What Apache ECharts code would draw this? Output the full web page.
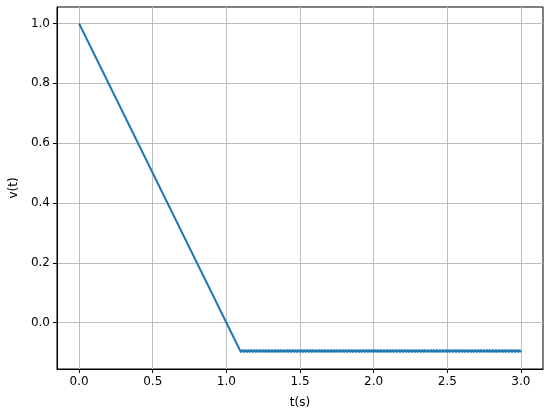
<!DOCTYPE html>
<html>
<head>
<meta charset="utf-8">
<script src="https://cdn.jsdelivr.net/npm/echarts@6/dist/echarts.min.js"></script>
<style>
  html, body { margin: 0; padding: 0; background: #fff; }
  #chart { width: 550px; height: 417px; }
</style>
</head>
<body>
<div id="chart"></div>
<script>
// ramp part: v falls linearly from 1 to about -0.09
var rampT = [0, 1.09];
var rampV = [1.0, -0.09];

// chattering part, one value every 0.01 s from 1.10 s to 3.00 s
var chatterStart = 1.10;
var chatterStep = 0.01;
var chatterV = [
    -0.0988, -0.0912, -0.0988, -0.0912, -0.0988, -0.0912, -0.0988, -0.0912, -0.0988, -0.0912,
    -0.0988, -0.0912, -0.0988, -0.0912, -0.0988, -0.0912, -0.0988, -0.0912, -0.0988, -0.0912,
    -0.0988, -0.0912, -0.0988, -0.0912, -0.0988, -0.0912, -0.0988, -0.0912, -0.0988, -0.0912,
    -0.0988, -0.0912, -0.0988, -0.0912, -0.0988, -0.0912, -0.0988, -0.0912, -0.0988, -0.0912,
    -0.0988, -0.0912, -0.0988, -0.0912, -0.0988, -0.0912, -0.0988, -0.0912, -0.0988, -0.0912,
    -0.0988, -0.0912, -0.0988, -0.0912, -0.0988, -0.0912, -0.0988, -0.0912, -0.0988, -0.0912,
    -0.0988, -0.0912, -0.0988, -0.0912, -0.0988, -0.0912, -0.0988, -0.0912, -0.0988, -0.0912,
    -0.0988, -0.0912, -0.0988, -0.0912, -0.0988, -0.0912, -0.0988, -0.0912, -0.0988, -0.0912,
    -0.0988, -0.0912, -0.0988, -0.0912, -0.0988, -0.0912, -0.0988, -0.0912, -0.0988, -0.0912,
    -0.0988, -0.0912, -0.0988, -0.0912, -0.0988, -0.0912, -0.0988, -0.0912, -0.0988, -0.0912,
    -0.0988, -0.0912, -0.0988, -0.0912, -0.0988, -0.0912, -0.0988, -0.0912, -0.0988, -0.0912,
    -0.0988, -0.0912, -0.0988, -0.0912, -0.0988, -0.0912, -0.0988, -0.0912, -0.0988, -0.0912,
    -0.0988, -0.0912, -0.0988, -0.0912, -0.0988, -0.0912, -0.0988, -0.0912, -0.0988, -0.0912,
    -0.0988, -0.0912, -0.0988, -0.0912, -0.0988, -0.0912, -0.0988, -0.0912, -0.0988, -0.0912,
    -0.0988, -0.0912, -0.0988, -0.0912, -0.0988, -0.0912, -0.0988, -0.0912, -0.0988, -0.0912,
    -0.0988, -0.0912, -0.0988, -0.0912, -0.0988, -0.0912, -0.0988, -0.0912, -0.0988, -0.0912,
    -0.0988, -0.0912, -0.0988, -0.0912, -0.0988, -0.0912, -0.0988, -0.0912, -0.0988, -0.0912,
    -0.0988, -0.0912, -0.0988, -0.0912, -0.0988, -0.0912, -0.0988, -0.0912, -0.0988, -0.0912,
    -0.0988, -0.0912, -0.0988, -0.0912, -0.0988, -0.0912, -0.0988, -0.0912, -0.0988, -0.0912,
    -0.0988
];

var xTicks = [0, 0.5, 1.0, 1.5, 2.0, 2.5, 3.0];
var yTicks = [0, 0.2, 0.4, 0.6, 0.8, 1.0];

var points = [];
for (var i = 0; i < rampT.length; i++) {
    points.push([rampT[i], rampV[i]]);
}
for (var j = 0; j < chatterV.length; j++) {
    points.push([+(chatterStart + j * chatterStep).toFixed(2), chatterV[j]]);
}

var myChart = echarts.init(document.getElementById('chart'));

var font = 'DejaVu Sans';
var gridStyle = { show: true, lineStyle: { color: '#bdbdbd', width: 1 } };

var option = {
    animation: false,
    backgroundColor: '#fff',
    textStyle: { fontFamily: font },
    grid: {
        left: 57,
        right: 7,
        top: 7,
        bottom: 48,
        show: true,
        borderColor: '#000',
        borderWidth: 1,
        containLabel: false
    },
    xAxis: {
        type: 'value',
        min: -0.15,
        max: 3.15,
        name: 't(s)',
        nameLocation: 'middle',
        nameGap: 28,
        nameTextStyle: { fontFamily: font, fontSize: 12, color: '#000' },
        axisLine: { show: true, onZero: false, lineStyle: { color: '#000', width: 1 } },
        axisTick: { show: true, length: 4, lineStyle: { color: '#000' }, customValues: xTicks },
        axisLabel: {
            margin: 7,
            fontFamily: font,
            fontSize: 12,
            color: '#000',
            customValues: xTicks,
            formatter: function (v) { return v.toFixed(1); }
        },
        splitLine: gridStyle
    },
    yAxis: {
        type: 'value',
        min: -0.155,
        max: 1.055,
        name: 'v(t)',
        nameLocation: 'middle',
        nameGap: 35,
        nameTextStyle: { fontFamily: font, fontSize: 12, color: '#000' },
        axisLine: { show: true, onZero: false, lineStyle: { color: '#000', width: 1 } },
        axisTick: { show: true, length: 4, lineStyle: { color: '#000' }, customValues: yTicks },
        axisLabel: {
            margin: 7,
            fontFamily: font,
            fontSize: 12,
            color: '#000',
            customValues: yTicks,
            formatter: function (v) { return v.toFixed(1); }
        },
        splitLine: gridStyle
    },
    series: [
        {
            type: 'line',
            data: points,
            showSymbol: false,
            lineStyle: { color: '#1f77b4', width: 2 },
            itemStyle: { color: '#1f77b4' }
        }
    ]
};

myChart.setOption(option);
</script>
</body>
</html>
